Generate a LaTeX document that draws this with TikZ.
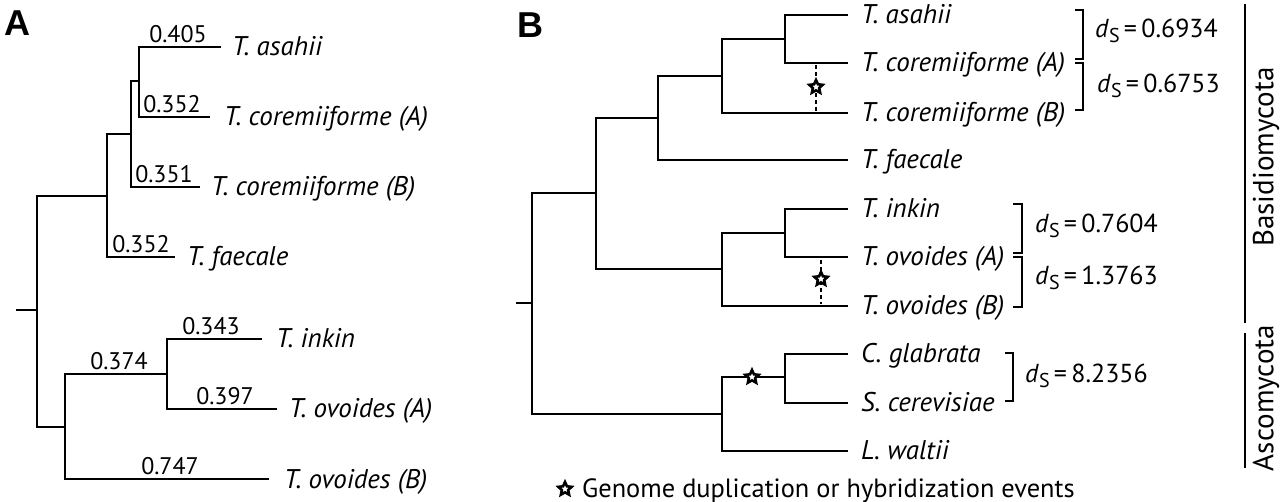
\documentclass[tikz,border=0pt]{standalone}
\usepackage{fontspec}
\setmainfont{PT Sans}
\newfontfamily\mypanelfam{Liberation Sans}
\usetikzlibrary{shapes.geometric}
\newcommand\myspfont{\fontsize{27}{31}\selectfont\itshape}
\newcommand\mynumfont{\fontsize{24}{28}\selectfont}
\newcommand\mydsfont{\fontsize{26}{30}\selectfont}
\newcommand\mydS[1]{\textit{d}\raisebox{-5pt}{\fontsize{20}{20}\selectfont S}\,=\,#1}
\begin{document}
\begin{tikzpicture}[x=1pt,y=-1pt,
  br/.style={line width=1.8pt},
  sp/.style={anchor=base west, inner sep=0pt, font=\myspfont},
  bl/.style={anchor=base, inner sep=0pt, font=\mynumfont},
  dl/.style={anchor=base west, inner sep=0pt, font=\mydsfont},
  ev/.style={star, star points=5, star point ratio=2.1, draw, line width=2.6pt, fill=white, minimum size=14pt, inner sep=0pt},
  dsh/.style={line width=1.3pt, dash pattern=on 4pt off 3pt},
  brk/.style={line width=1.8pt},
  panel/.style={anchor=north west, inner sep=0pt, font=\mypanelfam\bfseries\fontsize{36}{36}\selectfont},
  grp/.style={rotate=90, inner sep=0pt, font=\fontsize{29}{33}\selectfont},
  leg/.style={anchor=base west, inner sep=0pt, font=\fontsize{26.4}{30}\selectfont}
]
\useasboundingbox (0,0) rectangle (1280,502);

% ---------- Panel A ----------
\node[panel] (labA) at (4,11) {A};
\coordinate (ar) at (16,310);
\coordinate (a0) at (37,310);
\coordinate (a1) at (107,196);
\coordinate (a2) at (131,134);
\coordinate (a3) at (139,81);
\coordinate (a4) at (65,427);
\coordinate (a5) at (167,374);
\coordinate (ta1) at (221,47);
\coordinate (ta2) at (210,117);
\coordinate (ta3) at (200,187);
\coordinate (ta4) at (175,257);
\coordinate (ta5) at (262,339);
\coordinate (ta6) at (277,409);
\coordinate (ta7) at (269,479);

\draw[br] (ar) -- (a0);
\draw[br] (a0) |- (a1);
\draw[br] (a0) |- (a4);
\draw[br] (a1) |- (a2);
\draw[br] (a1) |- (ta4);
\draw[br] (a2) |- (a3);
\draw[br] (a2) |- (ta3);
\draw[br] (a3) |- (ta1);
\draw[br] (a3) |- (ta2);
\draw[br] (a4) |- (a5);
\draw[br] (a4) |- (ta7);
\draw[br] (a5) |- (ta5);
\draw[br] (a5) |- (ta6);

\node[sp] (na1) at (232,56) {T. asahii};
\node[sp] (na2) at (224,126) {T. coremiiforme (A)};
\node[sp] (na3) at (211,196) {T. coremiiforme (B)};
\node[sp] (na4) at (187,266) {T. faecale};
\node[sp] (na5) at (276,348) {T. inkin};
\node[sp] (na6) at (289,418) {T. ovoides (A)};
\node[sp] (na7) at (284,488) {T. ovoides (B)};

\node[bl] (la1) at (178,43) {0.405};
\node[bl] (la2) at (172,113) {0.352};
\node[bl] (la3) at (164,183) {0.351};
\node[bl] (la4) at (141,253) {0.352};
\node[bl] (la5) at (119,370) {0.374};
\node[bl] (la6) at (211,335) {0.343};
\node[bl] (la7) at (225,405) {0.397};
\node[bl] (la8) at (170,474) {0.747};

% ---------- Panel B ----------
\node[panel] (labB) at (517,13) {B};
\coordinate (br0) at (516,303);
\coordinate (b0) at (532,303);
\coordinate (b1) at (596,193);
\coordinate (b2) at (658,118);
\coordinate (b3) at (722,76);
\coordinate (b4) at (785,39);
\coordinate (b5) at (722,269);
\coordinate (b6) at (785,233);
\coordinate (b7) at (722,414);
\coordinate (b8) at (785,377);
\coordinate (tb1) at (848,15);
\coordinate (tb2) at (848,63);
\coordinate (tb3) at (848,113);
\coordinate (tb4) at (848,160);
\coordinate (tb5) at (848,209);
\coordinate (tb6) at (848,257);
\coordinate (tb7) at (848,306);
\coordinate (tb8) at (848,354);
\coordinate (tb9) at (848,403);
\coordinate (tb10) at (848,451);

\draw[br] (br0) -- (b0);
\draw[br] (b0) |- (b1);
\draw[br] (b0) |- (b7);
\draw[br] (b1) |- (b2);
\draw[br] (b1) |- (b5);
\draw[br] (b2) |- (b3);
\draw[br] (b2) |- (tb4);
\draw[br] (b3) |- (b4);
\draw[br] (b3) |- (tb3);
\draw[br] (b4) |- (tb1);
\draw[br] (b4) |- (tb2);
\draw[br] (b5) |- (b6);
\draw[br] (b5) |- (tb7);
\draw[br] (b6) |- (tb5);
\draw[br] (b6) |- (tb6);
\draw[br] (b7) |- (b8);
\draw[br] (b7) |- (tb10);
\draw[br] (b8) |- (tb8);
\draw[br] (b8) |- (tb9);

% duplication events
\coordinate (d1t) at (816,65);
\coordinate (d1b) at (816,111);
\coordinate (d2t) at (821,260);
\coordinate (d2b) at (821,304);
\draw[dsh] (d1t) -- (d1b);
\draw[dsh] (d2t) -- (d2b);
\node[ev] (s1) at (816,87) {};
\node[ev] (s2) at (821,279) {};
\node[ev] (s3) at (752,377) {};

\node[sp] (nb1) at (861,24) {T. asahii};
\node[sp] (nb2) at (861,72) {T. coremiiforme (A)};
\node[sp] (nb3) at (861,122) {T. coremiiforme (B)};
\node[sp] (nb4) at (861,169) {T. faecale};
\node[sp] (nb5) at (861,218) {T. inkin};
\node[sp] (nb6) at (861,266) {T. ovoides (A)};
\node[sp] (nb7) at (861,315) {T. ovoides (B)};
\node[sp] (nb8) at (861,363) {C. glabrata};
\node[sp] (nb9) at (861,412) {S. cerevisiae};
\node[sp] (nb10) at (861,460) {L. waltii};

% brackets
\draw[brk] (1075,10) -- (1083,10) -- (1083,59) -- (1075,59);
\draw[brk] (1075,63) -- (1083,63) -- (1083,110) -- (1075,110);
\draw[brk] (1013,204) -- (1022,204) -- (1022,253) -- (1013,253);
\draw[brk] (1013,257) -- (1022,257) -- (1022,307) -- (1013,307);
\draw[brk] (1005,353) -- (1013,353) -- (1013,401) -- (1005,401);

\node[dl] (ds1) at (1095,38) {\mydS{0.6934}};
\node[dl] (ds2) at (1097,93) {\mydS{0.6753}};
\node[dl] (ds3) at (1035,233) {\mydS{0.7604}};
\node[dl] (ds4) at (1035,285) {\mydS{1.3763}};
\node[dl] (ds5) at (1025,383) {\mydS{8.2356}};

% groups
\coordinate (g1t) at (1245,4);
\coordinate (g1b) at (1245,323);
\coordinate (g2t) at (1245,333);
\coordinate (g2b) at (1245,468);
\draw[brk] (g1t) -- (g1b);
\draw[brk] (g2t) -- (g2b);
\node[grp] (gb) at (1266,157) {Basidiomycota};
\node[grp] (ga) at (1266,398) {Ascomycota};

% legend
\node[ev] (ls) at (565,489) {};
\node[leg] (lt) at (582,497) {Genome duplication or hybridization events};
\end{tikzpicture}
\end{document}
